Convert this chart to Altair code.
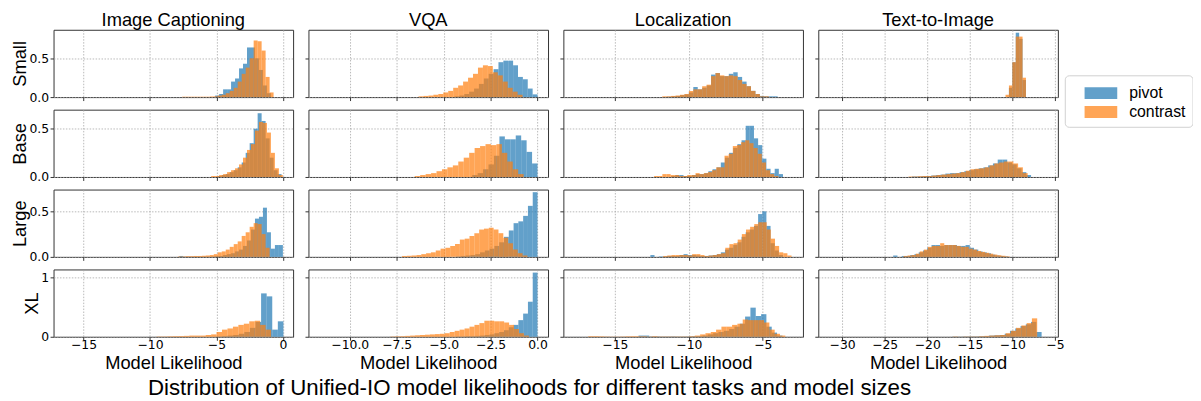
import altair as alt
import pandas as pd

COLUMNS = ["Image Captioning", "VQA", "Localization", "Text-to-Image"]
ROWS = ["Small", "Base", "Large", "XL"]
SERIES = ["pivot", "contrast"]
COLORS = ["#1f77b4", "#ff7f0e"]

X_TICKS = [[-15, -10, -5, 0], [-10, -7.5, -5, -2.5, 0], [-15, -10, -5], [-30, -25, -20, -15, -10, -5]]
X_FORMATS = ["d", ".1f", "d", "d"]
X_DOMAINS = [[-17.26, 0.77], [-12.2, 0.56], [-18.48, -2.29], [-32.8, -4.65]]
Y_TICKS = [[0, 0.5], [0, 0.5], [0, 0.5], [0, 1]]
Y_FORMATS = [".1f", ".1f", ".1f", "d"]
Y_DOMAINS = [[0, 0.868], [0, 0.697], [0, 0.739], [0, 1.133]]

# (first bin edge, bin width, densities)
ic_small_pivot = (-5.1, 0.3, [0.02, 0.04, 0.1, 0.1, 0.2, 0.24, 0.37, 0.43, 0.64, 0.64, 0.5, 0.35, 0.15, 0.05])
ic_small_contrast = (-7.6, 0.3, [0.005, 0.005, 0.005, 0.005, 0.005, 0.005, 0.005, 0.008, 0.01, 0.02, 0.03, 0.05,
                                 0.08, 0.12, 0.2, 0.3, 0.38, 0.5, 0.73, 0.72, 0.6, 0.26, 0.06])
ic_base_pivot = (-4.9, 0.3, [0.01, 0.02, 0.03, 0.05, 0.07, 0.1, 0.15, 0.25, 0.35, 0.5, 0.66, 0.58, 0.4, 0.2, 0.07, 0.03])
ic_base_contrast = (-5.4, 0.3, [0.01, 0.01, 0.02, 0.03, 0.05, 0.07, 0.09, 0.13, 0.2, 0.28, 0.34, 0.48, 0.57, 0.56,
                                0.46, 0.25, 0.09, 0.02])
ic_large_pivot = (-7.8, 0.3, [0.01, 0.003, 0.003, 0.003, 0.003, 0.003, 0.003, 0.003, 0.005, 0.008, 0.01, 0.02, 0.03,
                              0.04, 0.06, 0.08, 0.12, 0.18, 0.3, 0.42, 0.44, 0.54, 0.27, 0.09, 0.13, 0.13])
ic_large_contrast = (-7.9, 0.3, [0.005, 0.005, 0.008, 0.008, 0.01, 0.01, 0.012, 0.015, 0.02, 0.03, 0.05, 0.06, 0.08,
                                 0.11, 0.14, 0.17, 0.23, 0.27, 0.33, 0.37, 0.36, 0.25, 0.1])
ic_xl_pivot = (-5.0, 0.42, [0.005, 0.01, 0.02, 0.03, 0.05, 0.08, 0.15, 0.25, 0.73, 0.68, 0.12, 0.26])
ic_xl_contrast = (-9.5, 0.41, [0.005, 0.005, 0.008, 0.01, 0.012, 0.015, 0.02, 0.02, 0.02, 0.03, 0.04, 0.08, 0.12, 0.14,
                               0.17, 0.2, 0.22, 0.26, 0.27, 0.2, 0.12])

vqa_small_pivot = (-4.42, 0.26, [0.01, 0.02, 0.04, 0.07, 0.11, 0.17, 0.24, 0.3, 0.36, 0.45, 0.47, 0.47, 0.41, 0.26,
                                 0.23, 0.11, 0.035])
vqa_small_contrast = (-6.34, 0.264, [0.01, 0.015, 0.02, 0.03, 0.04, 0.06, 0.08, 0.12, 0.15, 0.2, 0.25, 0.3, 0.38, 0.41,
                                     0.4, 0.32, 0.28, 0.2, 0.12, 0.07, 0.03])
vqa_base_pivot = (-3.48, 0.29, [0.02, 0.04, 0.08, 0.13, 0.22, 0.42, 0.39, 0.39, 0.43, 0.38, 0.26, 0.14])
vqa_base_contrast = (-6.54, 0.29, [0.01, 0.02, 0.03, 0.04, 0.06, 0.08, 0.1, 0.12, 0.16, 0.2, 0.25, 0.3, 0.32, 0.34,
                                   0.33, 0.34, 0.25, 0.16, 0.08, 0.03])
vqa_large_pivot = (-4.335, 0.255, [0.005, 0.01, 0.015, 0.02, 0.03, 0.05, 0.07, 0.09, 0.12, 0.16, 0.22, 0.29, 0.37,
                                   0.39, 0.45, 0.56, 0.71])
vqa_large_contrast = (-7.22, 0.257, [0.01, 0.012, 0.015, 0.02, 0.03, 0.04, 0.05, 0.07, 0.09, 0.1, 0.12, 0.14, 0.19, 0.2,
                                     0.23, 0.26, 0.3, 0.31, 0.32, 0.3, 0.26, 0.21, 0.15, 0.08, 0.04, 0.015])
vqa_xl_pivot = (-4.335, 0.255, [0.005, 0.005, 0.01, 0.01, 0.015, 0.02, 0.03, 0.04, 0.06, 0.08, 0.11, 0.16, 0.2, 0.28,
                                0.39, 0.59, 1.08])
vqa_xl_contrast = (-7.84, 0.2636, [0.005, 0.008, 0.01, 0.015, 0.02, 0.025, 0.03, 0.035, 0.04, 0.045, 0.05, 0.06, 0.08,
                                   0.1, 0.12, 0.14, 0.17, 0.2, 0.23, 0.27, 0.27, 0.26, 0.26, 0.24, 0.2, 0.13, 0.06, 0.02])

loc_small_pivot = (-11.5, 0.3, [0.005, 0.01, 0.015, 0.025, 0.035, 0.06, 0.13, 0.1, 0.12, 0.15, 0.29, 0.31, 0.27, 0.27,
                                0.3, 0.32, 0.26, 0.2, 0.14, 0.08, 0.04, 0.015, 0.01, 0.01, 0.01])
loc_small_contrast = (-11.8, 0.3, [0.01, 0.01, 0.015, 0.02, 0.03, 0.04, 0.08, 0.1, 0.1, 0.14, 0.16, 0.27, 0.31, 0.28,
                                   0.27, 0.28, 0.27, 0.22, 0.17, 0.14, 0.08, 0.04, 0.01, 0.01])
loc_base_pivot = (-11.2, 0.28, [0.01, 0.02, 0.02, 0.01, 0.01, 0.02, 0.03, 0.03, 0.04, 0.06, 0.08, 0.1, 0.15, 0.2, 0.25,
                                0.3, 0.34, 0.38, 0.53, 0.53, 0.4, 0.33, 0.19, 0.085, 0.04, 0.085, 0.03])
loc_base_contrast = (-12.35, 0.28, [0.01, 0.01, 0.03, 0.03, 0.02, 0.02, 0.01, 0.01, 0.02, 0.02, 0.04, 0.03, 0.04, 0.05,
                                    0.07, 0.1, 0.1, 0.22, 0.24, 0.32, 0.33, 0.36, 0.38, 0.35, 0.3, 0.24, 0.15, 0.07,
                                    0.03, 0.01])
loc_large_pivot = (-12.6, 0.28, [0.02, 0.0, 0.005, 0.005, 0.01, 0.01, 0.01, 0.02, 0.03, 0.02, 0.02, 0.015, 0.01, 0.01,
                                 0.015, 0.02, 0.03, 0.05, 0.08, 0.1, 0.13, 0.16, 0.22, 0.27, 0.3, 0.34, 0.47, 0.5, 0.34,
                                 0.15, 0.07, 0.02])
loc_large_contrast = (-11.74, 0.28, [0.01, 0.015, 0.02, 0.02, 0.02, 0.02, 0.015, 0.03, 0.03, 0.02, 0.01, 0.015, 0.02,
                                     0.03, 0.04, 0.1, 0.14, 0.15, 0.19, 0.25, 0.3, 0.33, 0.36, 0.38, 0.38, 0.3, 0.2,
                                     0.12, 0.05, 0.04, 0.015])
loc_xl_pivot = (-13.4, 0.36, [0.02, 0.02, 0.005, 0.005, 0.003, 0.003, 0.005, 0.003, 0.003, 0.005, 0.008, 0.01, 0.02,
                              0.04, 0.06, 0.08, 0.1, 0.13, 0.17, 0.22, 0.34, 0.49, 0.35, 0.38, 0.17, 0.07, 0.02])
loc_xl_contrast = (-16.8, 0.36, [0.01, 0.01, 0.008, 0.005, 0.003, 0.003, 0.005, 0.01, 0.01, 0.01, 0.01, 0.005, 0.01,
                                 0.005, 0.005, 0.005, 0.005, 0.005, 0.005, 0.01, 0.02, 0.04, 0.06, 0.08, 0.12, 0.17,
                                 0.17, 0.2, 0.22, 0.29, 0.28, 0.28, 0.28, 0.24, 0.12, 0.05, 0.02])

t2i_small_pivot = (-10.4, 0.4, [0.12, 0.45, 0.83, 0.75, 0.22])
t2i_small_contrast = (-10.8, 0.4, [0.03, 0.15, 0.45, 0.78, 0.78, 0.25])
t2i_base_pivot = (-21.8, 0.56, [0.005, 0.005, 0.008, 0.01, 0.015, 0.02, 0.025, 0.035, 0.04, 0.04, 0.05, 0.06, 0.07,
                                0.08, 0.09, 0.1, 0.12, 0.14, 0.18, 0.18, 0.15, 0.13, 0.09, 0.05, 0.02])
t2i_base_contrast = (-22.2, 0.56, [0.005, 0.005, 0.008, 0.01, 0.01, 0.015, 0.02, 0.025, 0.03, 0.035, 0.04, 0.05,
                                   0.065, 0.08, 0.085, 0.09, 0.1, 0.12, 0.14, 0.15, 0.16, 0.16, 0.14, 0.1, 0.04])
t2i_large_pivot = (-24.0, 0.5, [0.015, 0.0, 0.01, 0.01, 0.02, 0.03, 0.05, 0.07, 0.1, 0.13, 0.13, 0.12, 0.13, 0.13,
                                0.13, 0.12, 0.12, 0.13, 0.1, 0.08, 0.06, 0.05, 0.04, 0.025, 0.015, 0.01, 0.005])
t2i_large_contrast = (-22.8, 0.48, [0.01, 0.015, 0.02, 0.035, 0.06, 0.08, 0.11, 0.12, 0.12, 0.15, 0.13, 0.13, 0.13,
                                    0.12, 0.11, 0.11, 0.09, 0.08, 0.065, 0.055, 0.045, 0.035, 0.025, 0.018, 0.012,
                                    0.006])
t2i_xl_pivot = (-17.1, 0.62, [0.003, 0.003, 0.005, 0.005, 0.005, 0.008, 0.01, 0.02, 0.025, 0.03, 0.05, 0.1, 0.14, 0.18,
                              0.21, 0.25, 0.08])
t2i_xl_contrast = (-17.0, 0.62, [0.005, 0.002, 0.005, 0.005, 0.005, 0.01, 0.015, 0.02, 0.025, 0.03, 0.06, 0.1, 0.15,
                                 0.19, 0.23, 0.31])

PANELS = [
    [(ic_small_pivot, ic_small_contrast), (vqa_small_pivot, vqa_small_contrast),
     (loc_small_pivot, loc_small_contrast), (t2i_small_pivot, t2i_small_contrast)],
    [(ic_base_pivot, ic_base_contrast), (vqa_base_pivot, vqa_base_contrast),
     (loc_base_pivot, loc_base_contrast), (t2i_base_pivot, t2i_base_contrast)],
    [(ic_large_pivot, ic_large_contrast), (vqa_large_pivot, vqa_large_contrast),
     (loc_large_pivot, loc_large_contrast), (t2i_large_pivot, t2i_large_contrast)],
    [(ic_xl_pivot, ic_xl_contrast), (vqa_xl_pivot, vqa_xl_contrast),
     (loc_xl_pivot, loc_xl_contrast), (t2i_xl_pivot, t2i_xl_contrast)],
]

FONT = "Liberation Sans"
TICK_FONT = "DejaVu Sans"
PW, PH = 242, 68


def panel(r, c):
    recs = []
    for name, (lo, w, hs) in zip(SERIES, PANELS[r][c]):
        for i, h in enumerate(hs):
            recs.append({"series": name, "x0": lo + i * w, "x1": lo + (i + 1) * w, "h": h})
    df = pd.DataFrame(recs)
    x = alt.X("x0:Q",
              scale=alt.Scale(domain=X_DOMAINS[c], nice=False, zero=False),
              axis=alt.Axis(values=X_TICKS[c], format=X_FORMATS[c], labels=(r == 3),
                            title="Model Likelihood" if r == 3 else None))
    y = alt.Y("h:Q",
              scale=alt.Scale(domain=Y_DOMAINS[r], nice=False),
              axis=alt.Axis(values=Y_TICKS[r], format=Y_FORMATS[r], labels=(c == 0),
                            title=ROWS[r] if c == 0 else None))
    color = alt.Color("series:N",
                      scale=alt.Scale(domain=SERIES, range=COLORS),
                      legend=alt.Legend(title=None, orient="none", legendX=1021.5, legendY=46))
    ch = alt.Chart(df).mark_rect(opacity=0.7).encode(
        x=x, x2="x1", y=y, y2=alt.datum(0), color=color
    ).properties(width=PW, height=PH)
    if r == 0:
        ch = ch.properties(title=COLUMNS[c])
    return ch


charts = [panel(r, c) for r in range(4) for c in range(4)]

chart = alt.concat(
    *charts, columns=4, spacing={"row": 12.7, "column": 15.5}, bounds="flush"
).properties(
    title=alt.TitleParams(
        "Distribution of Unified-IO model likelihoods for different tasks and model sizes",
        orient="bottom", anchor="middle", fontSize=22.5, font=FONT, fontWeight="normal",
        color="black", offset=4, dx=-73),
    padding={"left": 2, "top": 0, "right": 0, "bottom": 0},
).configure_view(
    stroke="#333333", strokeWidth=1
).configure_title(
    font=FONT, fontSize=18.5, fontWeight="normal", color="black", offset=0.5
).configure_axis(
    labelFont=TICK_FONT, labelFontSize=12.5, labelColor="black",
    titleFont=FONT, titleFontSize=18.5, titleFontWeight="normal", titleColor="black",
    tickColor="#333333", tickSize=3.5, tickWidth=1, domain=False,
    grid=True, gridColor="#a8a8a8", gridDash=[1.5, 1.5], gridWidth=0.8,
).configure_axisX(
    titlePadding=3, labelPadding=-1.5
).configure_axisY(
    titlePadding=-1, labelPadding=1.5
).configure_legend(
    labelFont=FONT, labelFontSize=16, labelColor="black",
    symbolType="M0.18,-0.55H3.18V0.55H0.18Z", symbolSize=484, symbolOpacity=0.7,
    symbolStrokeWidth=0, labelOffset=36, rowPadding=0, padding=7,
    strokeColor="#d0d0d0", fillColor="white", cornerRadius=4,
)

chart.save("out.html", embed_options={"renderer": "svg", "actions": False})
